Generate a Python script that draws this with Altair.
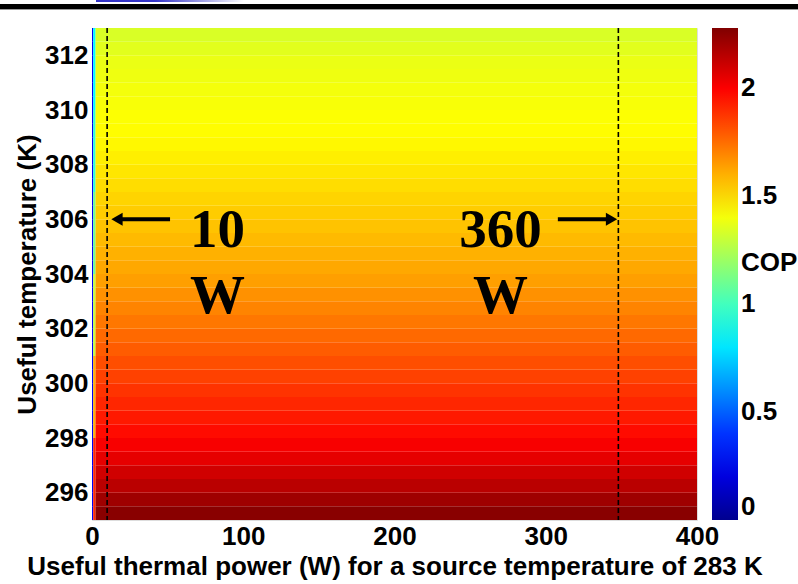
import altair as alt
import pandas as pd

# ---- data ----
# temperature rows (lower edge, K), each 0.5 K tall
temp_low = [295.0, 295.5, 296.0, 296.5, 297.0, 297.5, 298.0, 298.5, 299.0, 299.5,
            300.0, 300.5, 301.0, 301.5, 302.0, 302.5, 303.0, 303.5, 304.0, 304.5,
            305.0, 305.5, 306.0, 306.5, 307.0, 307.5, 308.0, 308.5, 309.0, 309.5,
            310.0, 310.5, 311.0, 311.5, 312.0, 312.5]
cop_row = [2.26, 2.21, 2.15, 2.10, 2.05, 2.01, 1.97, 1.94, 1.91, 1.88,
           1.85, 1.82, 1.79, 1.76, 1.73, 1.70, 1.67, 1.64, 1.62, 1.60,
           1.58, 1.56, 1.54, 1.52, 1.50, 1.48, 1.46, 1.44, 1.43, 1.42,
           1.41, 1.40, 1.39, 1.38, 1.36, 1.34]
row_step = 0.5

# very low power strip at the left edge
strip_a_power = [0.0, 0.8]
strip_a_cop = 0.25
strip_b_power = [0.8, 2.2]
strip_b_temp = [295, 298, 301, 304, 307, 310, 313]
strip_b_cop = [1.9, 1.6, 1.3, 1.1, 0.95, 0.85]
main_power = [2.2, 400.0]

# marked operating limits
limit_power = [10, 348]
limit_labels = ["10", "360"]
label_x = [83, 270]
label_y_num = 305.6
label_y_unit = 303.2
arrow_temp = 306.0
arrow_left = [14.0, 51.6]
arrow_right = [308.0, 346.0]

x_ticks = [0, 100, 200, 300, 400]
y_ticks = [296, 298, 300, 302, 304, 306, 308, 310, 312]
cop_max = 2.28
legend_values = [0, 0.5, 1, 1.19, 1.5, 2]

# ---- build tables ----
rows = []
for t, c in zip(temp_low, cop_row):
    rows.append({"p0": main_power[0], "p1": main_power[1], "t0": t, "t1": t + row_step, "cop": c})
    rows.append({"p0": strip_a_power[0], "p1": strip_a_power[1], "t0": t, "t1": t + row_step, "cop": strip_a_cop})
for i, c in enumerate(strip_b_cop):
    rows.append({"p0": strip_b_power[0], "p1": strip_b_power[1],
                 "t0": strip_b_temp[i], "t1": strip_b_temp[i + 1], "cop": c})
heat_df = pd.DataFrame(rows)

lines_df = pd.DataFrame({"p": limit_power})
text_df = pd.DataFrame({
    "p": label_x + label_x,
    "t": [label_y_num, label_y_num, label_y_unit, label_y_unit],
    "txt": limit_labels + ["W", "W"],
})
shaft_df = pd.DataFrame({
    "p0": [arrow_left[0] + 3, arrow_right[0]],
    "p1": [arrow_left[1], arrow_right[1] - 3],
    "t": [arrow_temp, arrow_temp],
})
head_df = pd.DataFrame({
    "p": [arrow_left[0] + 2.5, arrow_right[1] - 2.5],
    "t": [arrow_temp, arrow_temp],
    "shape": ["triangle-left", "triangle-right"],
})

FONT = "Liberation Sans"
FS = 26

xscale = alt.Scale(domain=[0, 400], nice=False, zero=False)
yscale = alt.Scale(domain=[295, 313], nice=False, zero=False)

jet_domain = [0, cop_max * 1 / 8, cop_max * 3 / 8, cop_max * 5 / 8, cop_max * 7 / 8, cop_max]
jet_range = ["#00008f", "#0000ff", "#00ffff", "#ffff00", "#ff0000", "#800000"]

heat = alt.Chart(heat_df).mark_rect(stroke=None).encode(
    x=alt.X("p0:Q", scale=xscale,
            axis=alt.Axis(values=x_ticks, title="Useful thermal power (W) for a source temperature of 283 K",
                          grid=False, ticks=False, domain=False, labelPadding=3, titlePadding=4,
                          labelFont=FONT, labelFontSize=FS, labelFontWeight="bold", labelColor="black",
                          titleFont=FONT, titleFontSize=FS, titleFontWeight="bold", titleColor="black",
                          labelFlush=False)),
    x2="p1:Q",
    y=alt.Y("t0:Q", scale=yscale,
            axis=alt.Axis(values=y_ticks, title="Useful temperature (K)",
                          grid=False, ticks=False, domain=False, labelPadding=4, titlePadding=4,
                          labelFont=FONT, labelFontSize=FS, labelFontWeight="bold", labelColor="black",
                          titleFont=FONT, titleFontSize=FS, titleFontWeight="bold", titleColor="black",
                          labelFlush=False)),
    y2="t1:Q",
    color=alt.Color("cop:Q", scale=alt.Scale(domain=jet_domain, range=jet_range, interpolate="rgb"),
                    title=None,
                    legend=alt.Legend(orient="right", offset=15, gradientLength=492, gradientThickness=26,
                                      values=legend_values,
                                      labelExpr="datum.value == 1.19 ? 'COP' : format(datum.value, '~g')",
                                      labelFont=FONT, labelFontSize=FS, labelFontWeight="bold",
                                      labelColor="black", labelOffset=3, labelBaseline="middle",
                                      labelOverlap=False, padding=0, gradientStrokeWidth=0)),
)

vlines = alt.Chart(lines_df).mark_rule(color="black", strokeWidth=1.6, strokeDash=[5, 3]).encode(
    x=alt.X("p:Q", scale=xscale)
)

shafts = alt.Chart(shaft_df).mark_rule(color="black", strokeWidth=4).encode(
    x=alt.X("p0:Q", scale=xscale), x2="p1:Q", y=alt.Y("t:Q", scale=yscale)
)
heads = alt.Chart(head_df).mark_point(filled=True, color="black", opacity=1, size=170).encode(
    x=alt.X("p:Q", scale=xscale), y=alt.Y("t:Q", scale=yscale),
    shape=alt.Shape("shape:N", scale=None, legend=None),
)

texts = alt.Chart(text_df).mark_text(font="Liberation Serif", fontSize=55, fontWeight="bold",
                                     color="black", baseline="middle", align="center").encode(
    x=alt.X("p:Q", scale=xscale), y=alt.Y("t:Q", scale=yscale), text="txt:N"
)

# page decoration at the very top of the slide capture
topbar = alt.Chart(pd.DataFrame({"k": [0]})).mark_rule(color="black", strokeWidth=5).encode(
    x=alt.value(-92), x2=alt.value(706), y=alt.value(-21.5)
)
topgray = alt.Chart(pd.DataFrame({"k": [0]})).mark_rule(color="#9a9a9a", strokeWidth=1).encode(
    x=alt.value(-92), x2=alt.value(706), y=alt.value(-18.5)
)
topblue = alt.Chart(pd.DataFrame({"k": [0]})).mark_rect(
    fill=alt.Gradient(gradient="linear", stops=[alt.GradientStop(color="#3535c8", offset=0),
                                                alt.GradientStop(color="#3535c8", offset=0.4),
                                                alt.GradientStop(color="#ffffff", offset=1)],
                      x1=0, x2=1, y1=0, y2=0)
).encode(x=alt.value(4), x2=alt.value(152), y=alt.value(-28), y2=alt.value(-26))

chart = alt.layer(heat, vlines, shafts, heads, texts, topbar, topgray, topblue).properties(
    width=605, height=492,
    autosize=alt.AutoSizeParams(type="none"),
    padding={"left": 92, "top": 28, "right": 101, "bottom": 64},
).configure_view(stroke=None).configure(background="white")

chart.save("out.html", embed_options={"renderer": "svg", "actions": False})
